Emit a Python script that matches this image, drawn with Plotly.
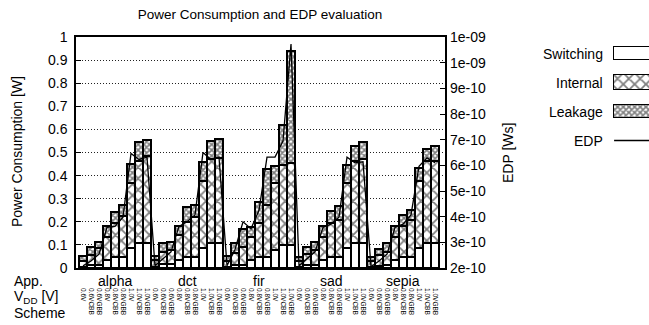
import plotly.graph_objects as go

W, H = 649, 325

apps = ["alpha", "dct", "fir", "sad", "sepia"]
schemes = ["0.6V", "0.6VCBB", "0.6VGBB", "0.8V", "0.8VCBB", "0.8VGBB",
           "1.0V", "1.0VCBB", "1.0VGBB"]

# Power components [W], 9 schemes per app (alpha, dct, fir, sad, sepia)
switching = [0.005, 0.013, 0.013, 0.035, 0.049, 0.049, 0.085, 0.107, 0.110,
             0.005, 0.017, 0.017, 0.035, 0.049, 0.049, 0.085, 0.107, 0.110,
             0.005, 0.013, 0.013, 0.035, 0.046, 0.046, 0.078, 0.100, 0.100,
             0.005, 0.013, 0.013, 0.035, 0.049, 0.049, 0.085, 0.107, 0.107,
             0.005, 0.010, 0.013, 0.035, 0.049, 0.049, 0.085, 0.107, 0.107]
internal = [0.027, 0.043, 0.072, 0.101, 0.145, 0.174, 0.283, 0.355, 0.374,
            0.030, 0.054, 0.061, 0.108, 0.152, 0.171, 0.290, 0.363, 0.367,
            0.025, 0.051, 0.077, 0.101, 0.148, 0.228, 0.290, 0.348, 0.355,
            0.025, 0.047, 0.065, 0.101, 0.145, 0.160, 0.283, 0.355, 0.363,
            0.025, 0.047, 0.058, 0.101, 0.131, 0.160, 0.290, 0.355, 0.355]
leakage = [0.020, 0.037, 0.029, 0.044, 0.048, 0.048, 0.084, 0.084, 0.069,
           0.017, 0.036, 0.036, 0.040, 0.063, 0.052, 0.083, 0.079, 0.080,
           0.020, 0.043, 0.078, 0.041, 0.090, 0.156, 0.072, 0.172, 0.483,
           0.019, 0.033, 0.036, 0.044, 0.054, 0.061, 0.080, 0.065, 0.075,
           0.019, 0.026, 0.036, 0.044, 0.050, 0.043, 0.058, 0.054, 0.065]
# EDP [Ws]
edp = [2.09e-10, 2.27e-10, 2.54e-10, 3.58e-10, 3.62e-10, 3.98e-10, 6.46e-10, 6.23e-10, 6.32e-10,
       2.09e-10, 2.36e-10, 2.63e-10, 3.62e-10, 3.80e-10, 4.07e-10, 6.50e-10, 6.23e-10, 6.32e-10,
       2.09e-10, 2.72e-10, 3.80e-10, 3.53e-10, 4.25e-10, 6.32e-10, 6.32e-10, 6.95e-10, 10.73e-10,
       2.09e-10, 2.36e-10, 2.63e-10, 3.58e-10, 3.71e-10, 3.98e-10, 6.32e-10, 6.10e-10, 6.14e-10,
       2.05e-10, 2.27e-10, 2.54e-10, 3.58e-10, 3.71e-10, 4.07e-10, 5.96e-10, 6.29e-10, 6.10e-10]

left_ticks = [0, 0.1, 0.2, 0.3, 0.4, 0.5, 0.6, 0.7, 0.8, 0.9, 1.0]
left_ticktext = ["0", "0.1", "0.2", "0.3", "0.4", "0.5", "0.6", "0.7", "0.8", "0.9", "1"]
right_ticks = [2e-10, 3e-10, 4e-10, 5e-10, 6e-10, 7e-10, 8e-10, 9e-10, 1e-9, 1.1e-9]
right_ticktext = ["2e-10", "3e-10", "4e-10", "5e-10", "6e-10", "7e-10", "8e-10", "9e-10", "1e-09", "1e-09"]

legend_names = ["Switching", "Internal", "Leakage", "EDP"]

FONT = "Liberation Sans, Arial, sans-serif"


def px_x(p):
    return p / W


def px_y(p):
    return 1 - p / H


xs = list(range(len(switching)))
ticktext = schemes * len(apps)

BORDER = dict(color="black", width=2)
pat_internal = dict(shape="x", size=8, solidity=0.4, fgcolor="black", bgcolor="white", fillmode="overlay")
pat_leak = dict(shape="x", size=4, solidity=0.65, fgcolor="black", bgcolor="white", fillmode="overlay")

fig = go.Figure()
fig.add_trace(go.Bar(x=xs, y=switching, name="Switching", width=1,
                     marker=dict(color="white", line=BORDER), showlegend=False))
fig.add_trace(go.Bar(x=xs, y=internal, name="Internal", width=1,
                     marker=dict(color="white", line=BORDER, pattern=pat_internal), showlegend=False))
fig.add_trace(go.Bar(x=xs, y=leakage, name="Leakage", width=1,
                     marker=dict(color="white", line=BORDER, pattern=pat_leak), showlegend=False))
fig.add_trace(go.Scatter(x=xs, y=edp, name="EDP", yaxis="y2", mode="lines",
                         line=dict(color="black", width=1.3), showlegend=False))

# custom key (text left of swatch)
KEY_BORDER = dict(color="black", width=1.5)
fig.add_trace(go.Bar(y=[0], x=[2], base=[0], orientation="h", width=0.48, xaxis="x3", yaxis="y3",
                     marker=dict(color="white", line=KEY_BORDER), showlegend=False, hoverinfo="skip"))
fig.add_trace(go.Bar(y=[1], x=[2], base=[0], orientation="h", width=0.52, xaxis="x3", yaxis="y3",
                     marker=dict(color="white", line=KEY_BORDER, pattern=pat_internal), showlegend=False, hoverinfo="skip"))
fig.add_trace(go.Bar(y=[2], x=[2], base=[0], orientation="h", width=0.48, xaxis="x3", yaxis="y3",
                     marker=dict(color="white", line=KEY_BORDER, pattern=pat_leak), showlegend=False, hoverinfo="skip"))
fig.add_trace(go.Scatter(y=[3, 3], x=[0, 2], xaxis="x3", yaxis="y3", mode="lines",
                         line=dict(color="black", width=1.3), showlegend=False, hoverinfo="skip"))

plot_dom_y = [px_y(268), px_y(37)]

fig.update_layout(
    width=W, height=H,
    margin=dict(l=0, r=0, t=0, b=0),
    paper_bgcolor="white", plot_bgcolor="white",
    barmode="stack", bargap=0,
    font=dict(family=FONT, size=14, color="black"),
    title=dict(text="Power Consumption and EDP evaluation", x=px_x(260), xanchor="center",
               y=px_y(14), yanchor="middle", yref="container", font=dict(size=13.5)),
    xaxis=dict(domain=[px_x(76), px_x(445)], range=[-0.875, 45.25], tickmode="array",
               tickvals=xs, ticktext=ticktext, tickangle=90, tickfont=dict(size=6.5),
               ticks="", showline=True, mirror=True, linecolor="black", linewidth=1.5,
               showgrid=False, zeroline=False, ticklabelstandoff=17, automargin=False, anchor="y"),
    yaxis=dict(domain=plot_dom_y, range=[0, 1], tickmode="array", tickvals=left_ticks,
               ticktext=left_ticktext, ticks="inside", ticklen=5, tickcolor="black",
               showgrid=True, gridcolor="#222222", griddash="1px,2px", gridwidth=1,
               showline=True, mirror=True, linecolor="black", linewidth=1.5,
               zeroline=False, automargin=False, anchor="x", ticklabelstandoff=4),
    yaxis2=dict(overlaying="y", side="right", range=[2e-10, 1.1e-9], tickmode="array",
                tickvals=right_ticks, ticktext=right_ticktext, ticks="inside", ticklen=5,
                tickcolor="black", showgrid=False, showline=False, zeroline=False,
                automargin=False, anchor="x", ticklabelstandoff=4),
    xaxis3=dict(domain=[px_x(612), 1], range=[-0.06, 1], visible=False, anchor="y3"),
    yaxis3=dict(domain=[px_y(155), px_y(39)], range=[3.5, -0.5], visible=False, anchor="x3"),
)

annotations = []
for g, app in enumerate(apps):
    annotations.append(dict(text=app, x=g * len(schemes) + (len(schemes) - 1) / 2, xref="x",
                            y=px_y(281), yref="paper", showarrow=False, xanchor="center",
                            yanchor="middle", font=dict(size=14)))
for txt, yp in [("App.", 281), ("V<sub>DD</sub> [V]", 297), ("Scheme", 313)]:
    annotations.append(dict(text=txt, x=px_x(12), xref="paper", y=px_y(yp), yref="paper",
                            showarrow=False, xanchor="left", yanchor="middle", font=dict(size=14)))
annotations.append(dict(text="Power Consumption [W]", x=px_x(17), xref="paper", y=px_y(152),
                        yref="paper", textangle=-90, showarrow=False, xanchor="center",
                        yanchor="middle", font=dict(size=14)))
annotations.append(dict(text="EDP [Ws]", x=px_x(508), xref="paper", y=px_y(153),
                        yref="paper", textangle=-90, showarrow=False, xanchor="center",
                        yanchor="middle", font=dict(size=14)))
for i, name in enumerate(legend_names):
    annotations.append(dict(text=name, x=px_x(605), xref="paper", y=i, yref="y3",
                            showarrow=False, xanchor="right", yanchor="middle", font=dict(size=14)))
fig.update_layout(annotations=annotations)

fig.write_html("out.html")
